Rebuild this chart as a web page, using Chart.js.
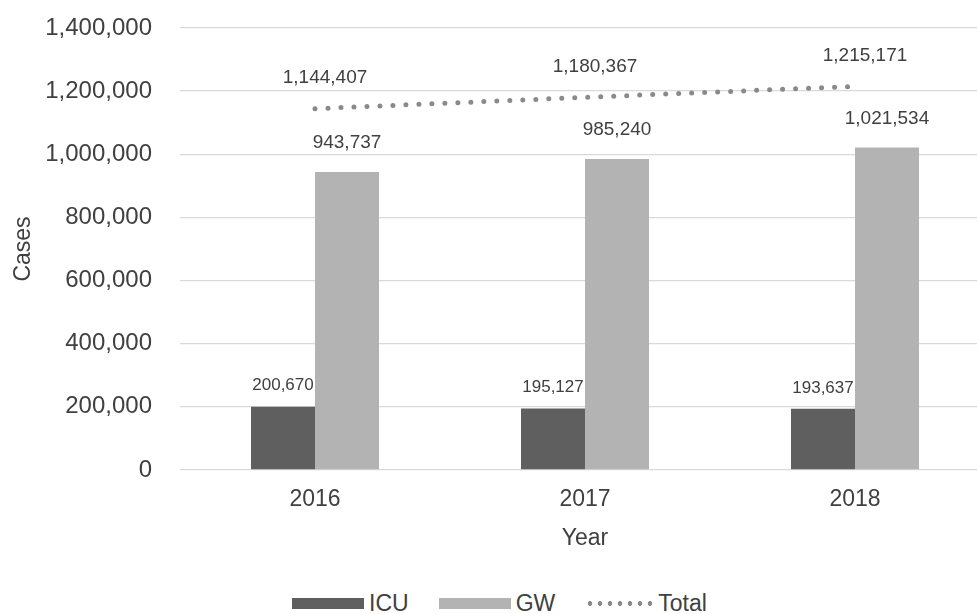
<!DOCTYPE html>
<html>
<head>
<meta charset="utf-8">
<script src="https://cdn.jsdelivr.net/npm/chart.js@4/dist/chart.umd.min.js"></script>
<style>
  html, body { margin: 0; padding: 0; background: #fff; overflow: hidden; }
  #wrap { position: relative; width: 990px; height: 556px; }
  #legend {
    position: absolute; left: 0; top: 590px; width: 999px;
    display: flex; justify-content: center; align-items: center;
    font-family: 'Liberation Sans', Arial, sans-serif; font-size: 23px; color: #404040;
  }
  .lg-item { display: flex; align-items: center; margin: 0 15px; }
  .lg-box { width: 72px; height: 11px; margin-right: 5px; }
  .lg-dots {
    width: 70px; height: 5px; margin-right: 3px;
    background: radial-gradient(circle, #8a8a8a 2.2px, transparent 2.6px) 0 0 / 10px 5px repeat-x;
  }
</style>
</head>
<body>
<div id="wrap"><canvas id="chart"></canvas></div>
<div id="legend">
  <div class="lg-item"><span class="lg-box" style="background:#5f5f5f"></span>ICU</div>
  <div class="lg-item"><span class="lg-box" style="background:#b3b3b3"></span>GW</div>
  <div class="lg-item"><span class="lg-dots"></span>Total</div>
</div>
<script>
// ─── data ────────────────────────────────────────────────────────────────
const YEARS = ['2016', '2017', '2018'];
const ICU   = [200670, 195127, 193637];
const GW    = [943737, 985240, 1021534];
const TOTAL = [1144407, 1180367, 1215171];

const FONT = "'Liberation Sans', Arial, sans-serif";
const TEXT = '#404040';
const GRID = '#d9d9d9';

const fmt = v => v.toLocaleString('en-US');

// value labels drawn above each bar / point
const valueLabels = {
  id: 'valueLabels',
  afterDatasetsDraw(chart) {
    const ctx = chart.ctx;
    chart.data.datasets.forEach((ds, i) => {
      const meta = chart.getDatasetMeta(i);
      const lab = ds.label_opts;
      ctx.save();
      ctx.font = `${lab.size}px ${FONT}`;
      ctx.fillStyle = TEXT;
      ctx.textAlign = 'center';
      ctx.textBaseline = 'middle';
      meta.data.forEach((el, j) => {
        ctx.fillText(fmt(ds.data[j]), el.x + lab.dx, el.y + lab.dy);
      });
      ctx.restore();
    });
  }
};

new Chart(document.getElementById('chart'), {
  type: 'bar',
  data: {
    labels: YEARS,
    datasets: [
      {
        label: 'ICU', data: ICU, backgroundColor: '#5f5f5f',
        categoryPercentage: 0.474, barPercentage: 1.0, order: 2,
        label_opts: { size: 17, dx: 0, dy: -21 },
      },
      {
        label: 'GW', data: GW, backgroundColor: '#b3b3b3',
        categoryPercentage: 0.474, barPercentage: 1.0, order: 2,
        label_opts: { size: 19, dx: 0, dy: -29 },
      },
      {
        type: 'line', label: 'Total', data: TOTAL,
        borderColor: '#8a8a8a', borderWidth: 5, borderDash: [0, 13],
        borderCapStyle: 'round', pointRadius: 0, fill: false, order: 1,
        label_opts: { size: 19, dx: 10, dy: -31 },
      },
    ],
  },
  options: {
    responsive: true,
    maintainAspectRatio: false,
    animation: false,
    layout: { padding: { top: 28, left: 6, right: 0, bottom: 0 } },
    plugins: { legend: { display: false }, tooltip: { enabled: false } },
    scales: {
      x: {
        grid: { display: false, drawTicks: false },
        border: { display: false },
        ticks: { color: TEXT, font: { family: FONT, size: 23 }, padding: 16 },
        title: { display: true, text: 'Year', color: TEXT, font: { family: FONT, size: 23 } },
        afterFit: s => { s.height = 86; },
      },
      y: {
        min: 0, max: 1400000,
        grid: { color: GRID, lineWidth: 1.3, drawTicks: false },
        border: { display: false },
        ticks: {
          stepSize: 200000, color: TEXT, padding: 28,
          font: { family: FONT, size: 24 },
          callback: v => fmt(v),
        },
        title: { display: true, text: 'Cases', color: TEXT, font: { family: FONT, size: 23 } },
        afterFit: s => { s.width = 174; s.paddingTop = 0; s.paddingBottom = 0; },
      },
    },
  },
  plugins: [valueLabels],
});
</script>
</body>
</html>
